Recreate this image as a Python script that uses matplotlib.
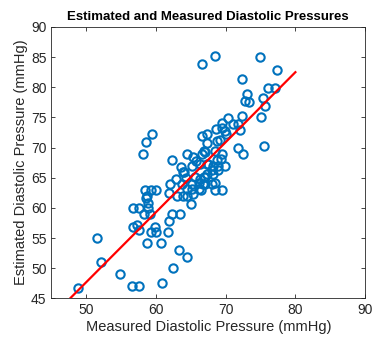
"""Estimated vs measured diastolic pressure scatter with a fitted line."""
import matplotlib
matplotlib.use("Agg")
import matplotlib.pyplot as plt
import numpy as np

BLUE, RED, INK = "#0072BD", "#FF0000", "#262626"

# Measured (x) and estimated (y) diastolic pressure, mmHg.
measured = [
    48.8, 51.5, 52.1, 54.8, 56.6, 57.5, 60.9, 62.4, 64.4, 63.25, 58.7, 60.75,
    56.7, 57.2, 57.5, 59.3, 59.9, 60.0, 61.7, 61.9, 62.3, 63.4, 56.65, 57.5,
    58.3, 58.8, 58.8, 59.1, 58.6, 58.75, 59.3, 60.0, 58.4,
    61.8, 61.95, 62.3, 62.9, 63.0, 63.6, 64.0, 64.4, 64.25, 64.4, 65.0, 65.1,
    65.35, 65.8, 65.1, 65.6, 66.6, 66.1, 66.3, 66.9, 67.0, 66.5, 63.7, 64.4,
    65.1, 66.1, 63.9, 65.35, 67.3, 66.3, 67.3, 63.9,
    66.6, 58.2, 58.5, 59.4,
    66.6, 67.3, 67.3, 67.1, 66.9, 68.4, 74.9, 77.4, 72.3, 76.1, 77.1, 73.0,
    72.7, 73.4, 75.3, 75.7, 75.0, 72.4, 70.4, 69.4, 71.1, 71.7, 72.0, 68.6,
    69.4, 69.9, 70.1, 69.2, 75.5, 71.7, 72.5, 69.4, 68.7, 69.3, 68.2, 68.9,
    69.9, 68.5, 67.5, 68.0, 68.9, 68.2, 68.5, 68.0, 69.4, 68.5, 66.8, 67.0,
    68.7,
]
estimated = [
    46.8, 55.0, 51.0, 49.0, 47.0, 47.0, 47.5, 50.0, 51.9, 53.1, 54.1, 54.1,
    56.9, 57.1, 56.3, 56.0, 56.9, 56.0, 56.0, 57.9, 59.0, 59.0, 60.0, 60.0,
    59.0, 60.0, 60.8, 59.0, 61.7, 62.0, 62.9, 62.9, 62.9,
    62.4, 64.0, 68.0, 64.8, 61.9, 66.7, 65.9, 68.9, 65.0, 61.9, 60.6, 67.0,
    62.3, 67.8, 64.0, 65.1, 68.9, 64.2, 64.8, 65.1, 64.0, 63.0, 64.0, 63.15,
    63.15, 63.15, 62.0, 68.4, 67.3, 67.3, 65.6, 65.9,
    83.9, 68.9, 71.0, 72.3,
    71.9, 72.2, 70.8, 69.2, 69.5, 85.1, 85.0, 82.9, 81.4, 79.9, 79.9, 78.9,
    77.8, 77.5, 78.2, 76.9, 75.0, 75.3, 74.9, 74.1, 73.9, 73.9, 72.9, 73.0,
    73.3, 72.8, 72.2, 71.2, 70.3, 70.0, 68.9, 68.9, 67.9, 68.1, 67.0, 67.0,
    67.0, 69.5, 67.3, 66.2, 66.2, 65.6, 64.2, 64.0, 62.9, 62.9, 64.0, 65.1,
    71.1,
]

# Fitted line drawn over this measured range
fit_range = [45, 80]
fit_slope, fit_intercept = 1.16, -10.3

ticks = [45, 50, 55, 60, 65, 70, 75, 80, 85, 90]
xticks = [50, 60, 70, 80, 90]

plt.rcParams["font.family"] = ["Liberation Sans", "DejaVu Sans"]
fig = plt.figure(figsize=(3.72, 3.41), dpi=100)
ax = fig.add_axes([0.1384, 0.125, 0.843, 0.796])

ax.plot(measured, estimated, "o", mfc="none", mec=BLUE, ms=6, mew=1.5, clip_on=False)
fx = np.array(fit_range, dtype=float)
ax.plot(fx, fit_slope * fx + fit_intercept, color=RED, lw=1.6)

ax.set_xlim(45, 90)
ax.set_ylim(45, 90)
ax.set_xticks(xticks)
ax.set_yticks(ticks)
ax.tick_params(direction="in", top=True, right=True, length=3, width=0.6,
               colors=INK, labelsize=10, labelcolor=INK)
for s in ax.spines.values():
    s.set_linewidth(0.6)
    s.set_color(INK)

ax.set_xlabel("Measured Diastolic Pressure (mmHg)", fontsize=10.5, color=INK, labelpad=2)
ax.set_ylabel("Estimated Diastolic Pressure (mmHg)", fontsize=10.5, color=INK, labelpad=2)
ax.set_title("Estimated and Measured Diastolic Pressures", fontsize=9.5,
             fontweight="bold", color="black", pad=5)

fig.savefig("out.png", dpi=100, facecolor="white")
